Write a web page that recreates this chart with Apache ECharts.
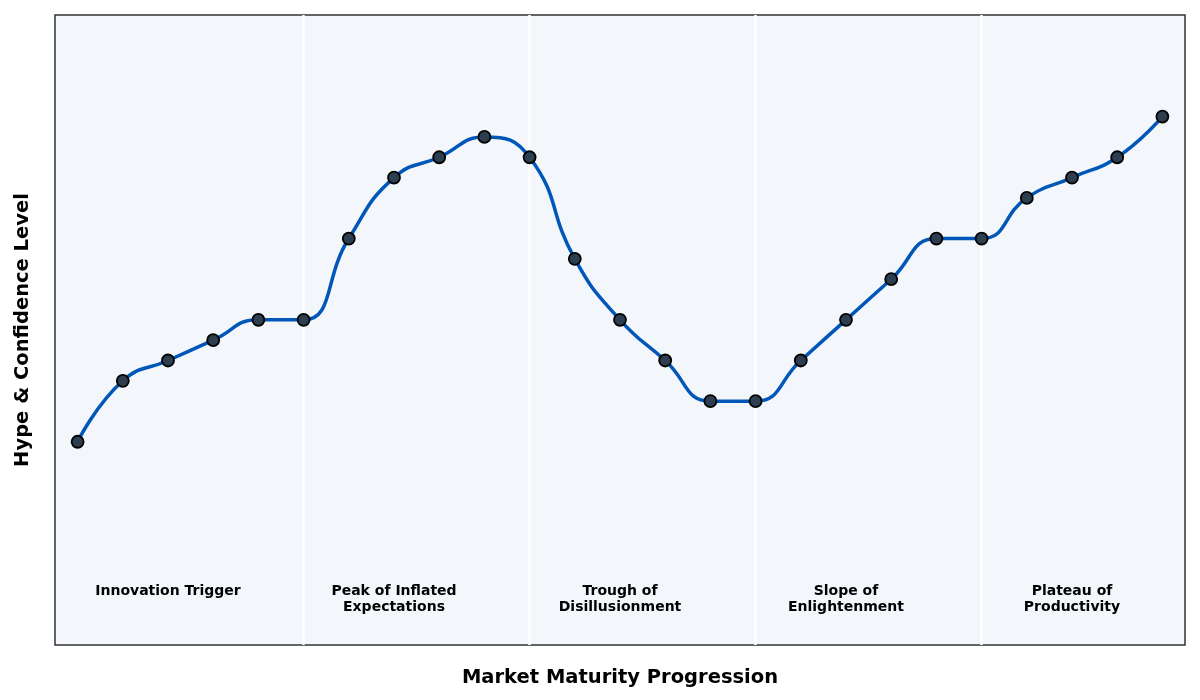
<!DOCTYPE html>
<html>
<head>
<meta charset="utf-8">
<script src="https://cdn.jsdelivr.net/npm/echarts@6/dist/echarts.min.js"></script>
<style>
  html, body { margin: 0; padding: 0; background: #fff; }
  #main { width: 1200px; height: 700px; }
</style>
</head>
<body>
<div id="main"></div>
<script>
// 数据
const steps = [0, 1, 2, 3, 4, 5, 6, 7, 8, 9, 10, 11, 12, 13, 14, 15, 16, 17, 18, 19, 20, 21, 22, 23, 24];
const hypeLevel = [20, 35, 40, 45, 50, 50, 70, 85, 90, 95, 90, 65, 50, 40, 30, 30, 40, 50, 60, 70, 70, 80, 85, 90, 100];
const phaseNames = ['Innovation Trigger', 'Peak of Inflated\nExpectations', 'Trough of\nDisillusionment', 'Slope of\nEnlightenment', 'Plateau of\nProductivity'];
const phaseCenters = [2, 7, 12, 17, 22];
const phaseBounds = [5, 10, 15, 20];
const phaseLabelY = -15;

var chart = echarts.init(document.getElementById('main'));

chart.setOption({
  animation: false,
  textStyle: { fontFamily: 'DejaVu Sans' },
  grid: {
    left: 55, right: 15, top: 15, bottom: 55,
    show: true,
    backgroundColor: '#f3f6fa',
    borderColor: '#333333',
    borderWidth: 1.5
  },
  xAxis: {
    type: 'value',
    min: -0.5,
    max: 24.5,
    name: 'Market Maturity Progression',
    nameLocation: 'middle',
    nameGap: 23,
    nameTextStyle: { fontSize: 19.5, fontWeight: 'bold', color: '#000' },
    axisLine: { show: false },
    axisTick: { show: false },
    axisLabel: { show: false },
    splitLine: { show: false }
  },
  yAxis: {
    type: 'value',
    min: -30,
    max: 125,
    name: 'Hype & Confidence Level',
    nameLocation: 'middle',
    nameGap: 22,
    nameTextStyle: { fontSize: 19.5, fontWeight: 'bold', color: '#000' },
    axisLine: { show: false },
    axisTick: { show: false },
    axisLabel: { show: false },
    splitLine: { show: false }
  },
  series: [
    {
      type: 'line',
      data: steps.map((s, i) => [s, hypeLevel[i]]),
      smooth: 0.5,
      symbol: 'circle',
      symbolSize: 12,
      lineStyle: { color: '#0057b7', width: 3.5 },
      itemStyle: { color: '#2c3e50', borderColor: '#000', borderWidth: 1.8 },
      z: 3,
      markLine: {
        // 阶段分隔线，放在曲线下面
        z: 1,
        silent: true,
        symbol: 'none',
        label: { show: false },
        lineStyle: { color: '#ffffff', width: 2.5, type: 'solid' },
        data: phaseBounds.map(b => ({ xAxis: b }))
      }
    },
    {
      type: 'scatter',
      symbolSize: 0,
      silent: true,
      itemStyle: { opacity: 1 },
      data: phaseCenters.map((c, i) => ({ value: [c, phaseLabelY], name: phaseNames[i] })),
      label: {
        show: true,
        position: 'inside',
        formatter: p => p.name,
        align: 'center',
        verticalAlign: 'top',
        fontSize: 14,
        lineHeight: 15.5,
        fontWeight: 'bold',
        color: '#000'
      }
    }
  ]
});
</script>
</body>
</html>
